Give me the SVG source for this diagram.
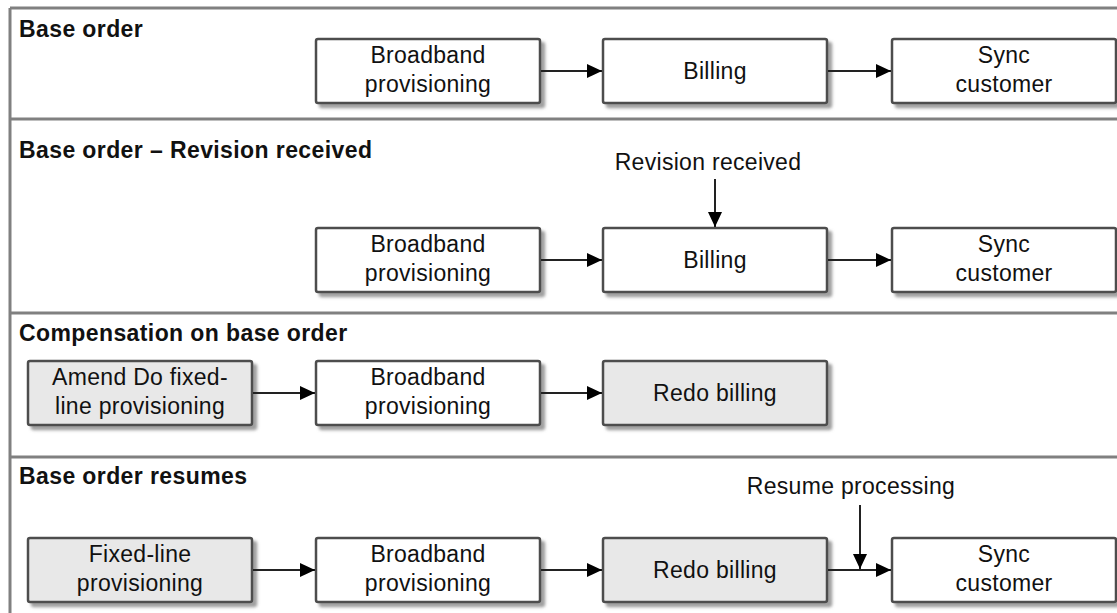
<svg xmlns="http://www.w3.org/2000/svg" width="1117" height="613" viewBox="0 0 1117 613">
  <style>
    .frame { stroke: #808080; stroke-width: 3; fill: none; }
    .box { stroke: #4d4d4d; stroke-width: 2.5; fill: #ffffff; }
    .box.grey { fill: #e8e8e8; }
    .lbl { font-family: "Liberation Sans", Arial, sans-serif; font-size: 23px; letter-spacing: 0.3px; fill: #111; text-anchor: middle; }
    .title { font-family: "Liberation Sans", Arial, sans-serif; font-size: 23px; font-weight: bold; letter-spacing: 0.4px; fill: #111; }
    .conn { stroke: #222; stroke-width: 2; fill: none; marker-end: url(#arrow); }
  </style>
  <defs>
    <marker id="arrow" viewBox="0 0 15 14" refX="15" refY="7" markerWidth="15" markerHeight="14" markerUnits="userSpaceOnUse" orient="auto">
      <path d="M0,0 L15,7 L0,14 Z" fill="#000"/>
    </marker>
    <filter id="shadow" x="-10%" y="-20%" width="130%" height="150%">
      <feDropShadow dx="4" dy="4" stdDeviation="1.5" flood-color="#888" flood-opacity="0.8"/>
    </filter>
  </defs>
  <rect width="1117" height="613" fill="#ffffff"/>

  <g id="frame">
    <line class="frame" x1="10" y1="8" x2="1117" y2="8"/>
    <line class="frame" x1="10" y1="8" x2="10" y2="613"/>
    <line class="frame" x1="10" y1="119" x2="1117" y2="119"/>
    <line class="frame" x1="10" y1="313" x2="1117" y2="313"/>
    <line class="frame" x1="10" y1="457" x2="1117" y2="457"/>
  </g>

  <g id="titles">
    <text class="title" x="19" y="37">Base order</text>
    <text class="title" x="19" y="158">Base order – Revision received</text>
    <text class="title" x="19" y="341">Compensation on base order</text>
    <text class="title" x="19" y="484">Base order resumes</text>
  </g>

  <!-- Row 1 -->
  <g id="r1-broadband">
    <rect class="box" x="316" y="39" width="224" height="64" rx="2" filter="url(#shadow)"/>
    <text class="lbl" x="428" y="63">Broadband</text>
    <text class="lbl" x="428" y="92">provisioning</text>
  </g>
  <g id="r1-billing">
    <rect class="box" x="603" y="39" width="224" height="64" rx="2" filter="url(#shadow)"/>
    <text class="lbl" x="715" y="79">Billing</text>
  </g>
  <g id="r1-sync">
    <rect class="box" x="892" y="39" width="224" height="64" rx="2" filter="url(#shadow)"/>
    <text class="lbl" x="1004" y="63">Sync</text>
    <text class="lbl" x="1004" y="92">customer</text>
  </g>

  <!-- Row 2 -->
  <g id="r2-broadband">
    <rect class="box" x="316" y="228" width="224" height="64" rx="2" filter="url(#shadow)"/>
    <text class="lbl" x="428" y="252">Broadband</text>
    <text class="lbl" x="428" y="281">provisioning</text>
  </g>
  <g id="r2-billing">
    <rect class="box" x="603" y="228" width="224" height="64" rx="2" filter="url(#shadow)"/>
    <text class="lbl" x="715" y="268">Billing</text>
  </g>
  <g id="r2-sync">
    <rect class="box" x="892" y="228" width="224" height="64" rx="2" filter="url(#shadow)"/>
    <text class="lbl" x="1004" y="252">Sync</text>
    <text class="lbl" x="1004" y="281">customer</text>
  </g>
  <g id="r2-revision-label">
    <text class="lbl" x="708" y="170">Revision received</text>
  </g>

  <!-- Row 3 -->
  <g id="r3-amend">
    <rect class="box grey" x="28" y="361" width="224" height="64" rx="2" filter="url(#shadow)"/>
    <text class="lbl" x="140" y="385">Amend Do fixed-</text>
    <text class="lbl" x="140" y="414">line provisioning</text>
  </g>
  <g id="r3-broadband">
    <rect class="box" x="316" y="361" width="224" height="64" rx="2" filter="url(#shadow)"/>
    <text class="lbl" x="428" y="385">Broadband</text>
    <text class="lbl" x="428" y="414">provisioning</text>
  </g>
  <g id="r3-redo">
    <rect class="box grey" x="603" y="361" width="224" height="64" rx="2" filter="url(#shadow)"/>
    <text class="lbl" x="715" y="401">Redo billing</text>
  </g>

  <!-- Row 4 -->
  <g id="r4-fixed">
    <rect class="box grey" x="28" y="538" width="224" height="64" rx="2" filter="url(#shadow)"/>
    <text class="lbl" x="140" y="562">Fixed-line</text>
    <text class="lbl" x="140" y="591">provisioning</text>
  </g>
  <g id="r4-broadband">
    <rect class="box" x="316" y="538" width="224" height="64" rx="2" filter="url(#shadow)"/>
    <text class="lbl" x="428" y="562">Broadband</text>
    <text class="lbl" x="428" y="591">provisioning</text>
  </g>
  <g id="r4-redo">
    <rect class="box grey" x="603" y="538" width="224" height="64" rx="2" filter="url(#shadow)"/>
    <text class="lbl" x="715" y="578">Redo billing</text>
  </g>
  <g id="r4-sync">
    <rect class="box" x="892" y="538" width="224" height="64" rx="2" filter="url(#shadow)"/>
    <text class="lbl" x="1004" y="562">Sync</text>
    <text class="lbl" x="1004" y="591">customer</text>
  </g>
  <g id="r4-resume-label">
    <text class="lbl" x="851" y="494">Resume processing</text>
  </g>

  <g id="connectors">
    <line class="conn" x1="541" y1="71" x2="602" y2="71"/>
    <line class="conn" x1="828" y1="71" x2="891" y2="71"/>
    <line class="conn" x1="541" y1="260" x2="602" y2="260"/>
    <line class="conn" x1="828" y1="260" x2="891" y2="260"/>
    <line class="conn" x1="715" y1="179" x2="715" y2="227"/>
    <line class="conn" x1="253" y1="393" x2="315" y2="393"/>
    <line class="conn" x1="541" y1="393" x2="602" y2="393"/>
    <line class="conn" x1="253" y1="570" x2="315" y2="570"/>
    <line class="conn" x1="541" y1="570" x2="602" y2="570"/>
    <line class="conn" x1="828" y1="570" x2="891" y2="570"/>
    <line class="conn" x1="860" y1="505" x2="860" y2="569"/>
  </g>
</svg>
